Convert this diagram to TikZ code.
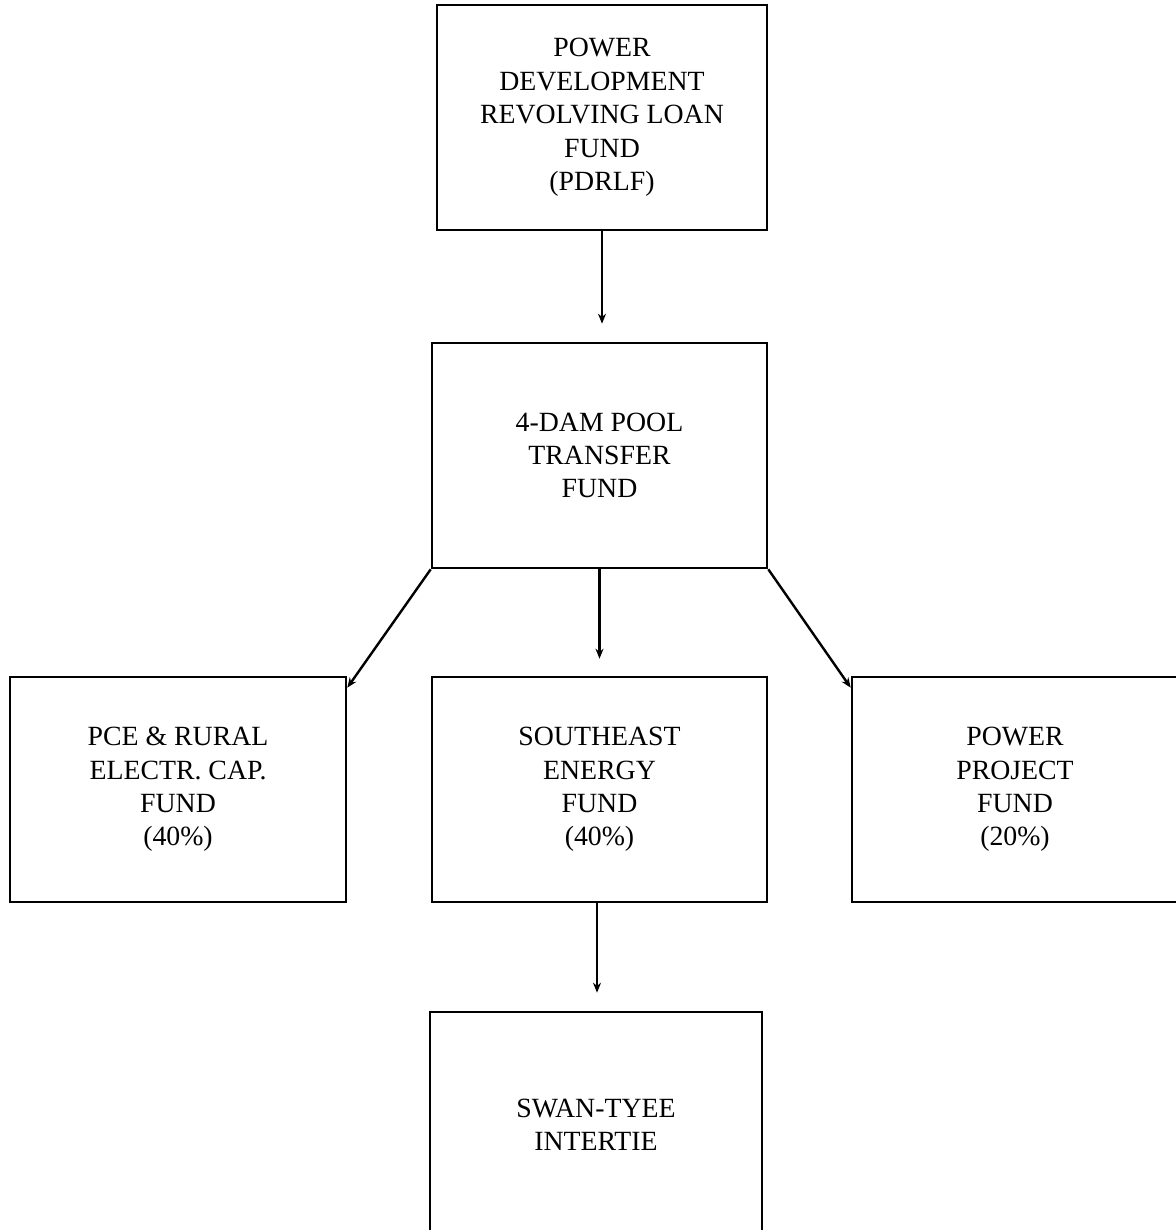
\documentclass[tikz,border=0pt]{standalone}
\usepackage{fontspec}
\setmainfont{Liberation Serif}
\usetikzlibrary{arrows.meta,calc}
\begin{document}
\begin{tikzpicture}[x=0.5pt,y=-0.5pt,
  fund/.style={draw=black,line width=1.3pt,align=center,inner sep=0pt,
    font=\fontsize{13.9}{16.7}\selectfont,text=black},
  link/.style={draw=black,line width=1.2pt,-{Stealth[length=5pt,width=4pt]}}]
\useasboundingbox[fill=white] (0,0) rectangle (1176,1230);
\node[fund,minimum width=165pt,minimum height=112.5pt] (pdrlf) at (602,117.5)
  {POWER\\DEVELOPMENT\\REVOLVING LOAN\\FUND\\(PDRLF)};
\node[fund,minimum width=167.5pt,minimum height=112.5pt] (pool) at (599.5,455.5)
  {4-DAM POOL\\TRANSFER\\FUND};
\node[fund,minimum width=168pt,minimum height=112.5pt] (pce) at (178,789.5)
  {PCE \& RURAL\\ELECTR. CAP.\\FUND\\(40\%)};
\node[fund,minimum width=167.5pt,minimum height=112.5pt] (sef) at (599.5,789.5)
  {SOUTHEAST\\ENERGY\\FUND\\(40\%)};
\node[fund,minimum width=163pt,minimum height=112.5pt] (ppf) at (1015,789.5)
  {POWER\\PROJECT\\FUND\\(20\%)};
\node[fund,minimum width=166pt,minimum height=112.5pt] (swan) at (596,1124.5)
  {SWAN-TYEE\\INTERTIE};
\draw[link,shorten >=9pt] (pdrlf.south) -- (pdrlf.south |- pool.north);
\draw[link,shorten >=8.5pt] (sef.north |- pool.south) -- (sef.north);
\draw[link,shorten >=9pt] ($(swan.north |- sef.south)+(1,0)$) -- ($(swan.north)+(1,0)$);
\draw[link] (pool.south west) -- ($(pce.north east)+(0,12)$);
\draw[link] (pool.south east) -- ($(ppf.north west)+(0,12)$);
\end{tikzpicture}
\end{document}
